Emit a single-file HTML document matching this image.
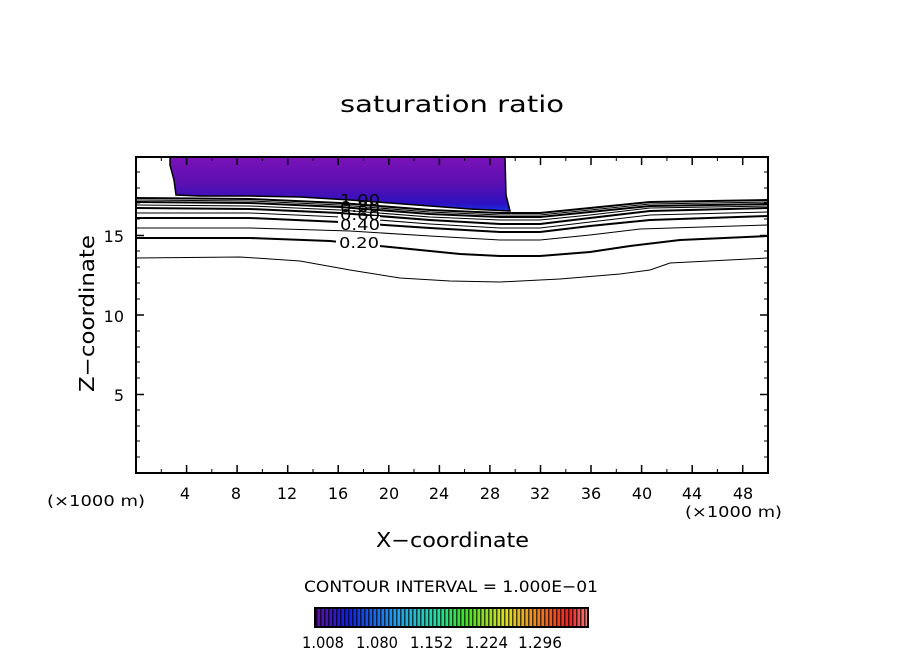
<!DOCTYPE html>
<html><head><style>body{margin:0;background:#fff}svg{display:block}text{font-family:"DejaVu Sans","Liberation Sans",sans-serif}</style></head><body>
<svg width="904" height="654" viewBox="0 0 904 654" xmlns="http://www.w3.org/2000/svg">
<defs>
<linearGradient id="pg" x1="0" y1="0" x2="0" y2="1">
<stop offset="0" stop-color="#7a12b8"/><stop offset="0.5" stop-color="#5a10b0"/><stop offset="0.85" stop-color="#3010c0"/><stop offset="1" stop-color="#1830e0"/>
</linearGradient>
<linearGradient id="cb" x1="0" y1="0" x2="1" y2="0">
<stop offset="0" stop-color="#6010a0"/><stop offset="0.12" stop-color="#1020e0"/><stop offset="0.3" stop-color="#20a0f0"/><stop offset="0.45" stop-color="#20e0a0"/><stop offset="0.55" stop-color="#40e020"/><stop offset="0.7" stop-color="#e0e020"/><stop offset="0.82" stop-color="#f08020"/><stop offset="0.93" stop-color="#f02020"/><stop offset="1" stop-color="#f08080"/>
</linearGradient>
<pattern id="st" width="4" height="20" patternUnits="userSpaceOnUse"><rect x="0" y="0" width="1.5" height="20" fill="#000" opacity="0.7"/></pattern>
</defs>
<text x="340" y="112" font-size="23" textLength="224" lengthAdjust="spacingAndGlyphs">saturation ratio</text>
<path d="M170,157 L505,157 L506,195 L510,211 L470,209 L430,206 L390,203 L350,200 L300,197 L250,196 L200,196 L176,195 L174,180 L170,165 Z" fill="url(#pg)" stroke="#000" stroke-width="1.5"/>
<g fill="none" stroke="#000">
<path d="M136,258 L240,257 L300,261 L350,270 L400,278 L450,281 L500,282 L560,279 L620,274 L650,270 L670,263 L768,258" stroke-width="1"/>
<path d="M136,238 L250,238 L330,241 L400,248 L460,254 L500,256 L540,256 L590,252 L630,246 L680,240 L768,236" stroke-width="2"/>
<path d="M136,228 L250,228 L350,231 L430,236 L500,240 L540,240 L590,235 L640,229 L768,225" stroke-width="1"/>
<path d="M136,218 L250,218 L340,222 L430,228 L500,232 L540,232 L590,226 L650,220 L768,216" stroke-width="2"/>
<path d="M136,213 L250,213 L340,217 L430,224 L500,228 L540,228 L590,222 L650,215 L768,212" stroke-width="1"/>
<path d="M136,208 L250,209 L340,213 L430,220 L500,224 L540,224 L590,218 L650,211 L768,208" stroke-width="2"/>
<path d="M136,205 L250,206 L340,210 L430,217 L500,220 L540,220 L590,215 L650,208 L768,206" stroke-width="1"/>
<path d="M136,202 L250,203 L340,207 L430,214 L500,217 L540,217 L590,212 L650,206 L768,204" stroke-width="2"/>
<path d="M136,200 L250,201 L340,205 L430,212 L500,215 L540,215 L590,210 L650,204 L768,202" stroke-width="1"/>
<path d="M136,198 L250,199 L340,203 L430,210 L500,213 L540,213 L590,208 L650,202 L768,200" stroke-width="2"/>
</g>
<rect x="336" y="234" width="44" height="14" fill="#fff"/>
<text x="339" y="248" font-size="15" textLength="40" lengthAdjust="spacingAndGlyphs">0.20</text>
<rect x="338" y="216" width="42" height="12" fill="#fff"/>
<text x="340" y="230" font-size="15" textLength="40" lengthAdjust="spacingAndGlyphs">0.40</text>
<text x="340" y="220" font-size="15" textLength="40" lengthAdjust="spacingAndGlyphs">0.60</text>
<text x="340" y="212" font-size="15" textLength="40" lengthAdjust="spacingAndGlyphs">0.80</text>
<text x="340" y="205" font-size="15" textLength="40" lengthAdjust="spacingAndGlyphs">1.00</text>
<rect x="136" y="157" width="632" height="316" fill="none" stroke="#000" stroke-width="2"/>
<g stroke="#000" stroke-width="1.5">
<path d="M186.6,473v-8M237.1,473v-8M287.7,473v-8M338.2,473v-8M388.8,473v-8M439.4,473v-8M489.9,473v-8M540.5,473v-8M591,473v-8M641.6,473v-8M692.2,473v-8M742.7,473v-8"/>
<path d="M186.6,157v8M237.1,157v8M287.7,157v8M338.2,157v8M388.8,157v8M439.4,157v8M489.9,157v8M540.5,157v8M591,157v8M641.6,157v8M692.2,157v8M742.7,157v8"/>
<path d="M136,394.5h8M136,315h8M136,235.5h8M768,394.5h-8M768,315h-8M768,235.5h-8"/>
</g>
<g stroke="#000" stroke-width="1">
<path d="M161.3,473v-4M211.8,473v-4M262.4,473v-4M313,473v-4M363.5,473v-4M414,473v-4M464.6,473v-4M515.2,473v-4M565.8,473v-4M616.3,473v-4M666.9,473v-4M717.4,473v-4"/>
<path d="M161.3,157v4M211.8,157v4M262.4,157v4M313,157v4M363.5,157v4M414,157v4M464.6,157v4M515.2,157v4M565.8,157v4M616.3,157v4M666.9,157v4M717.4,157v4"/>
<path d="M136,457h4M136,441h4M136,426h4M136,410h4M136,378h4M136,362h4M136,347h4M136,331h4M136,299h4M136,283h4M136,267h4M136,251h4M136,219h4M136,203h4M136,188h4M136,172h4"/>
<path d="M768,457h-4M768,441h-4M768,426h-4M768,410h-4M768,378h-4M768,362h-4M768,347h-4M768,331h-4M768,299h-4M768,283h-4M768,267h-4M768,251h-4M768,219h-4M768,203h-4M768,188h-4M768,172h-4"/>
</g>
<g font-size="16" text-anchor="middle">
<text x="185" y="499">4</text><text x="236" y="499">8</text><text x="287" y="499">12</text><text x="338" y="499">16</text><text x="389" y="499">20</text><text x="439" y="499">24</text><text x="490" y="499">28</text><text x="540" y="499">32</text><text x="591" y="499">36</text><text x="642" y="499">40</text><text x="692" y="499">44</text><text x="743" y="499">48</text>
</g>
<g font-size="16" text-anchor="end">
<text x="124" y="401">5</text><text x="124" y="322">10</text><text x="124" y="242">15</text>
</g>
<text x="47" y="506" font-size="15" textLength="98" lengthAdjust="spacingAndGlyphs">(×1000 m)</text>
<text x="685" y="517" font-size="15" textLength="97" lengthAdjust="spacingAndGlyphs">(×1000 m)</text>
<text x="376" y="547" font-size="20" textLength="153" lengthAdjust="spacingAndGlyphs">X−coordinate</text>
<text transform="translate(94,392) rotate(-90)" font-size="20" textLength="157" lengthAdjust="spacingAndGlyphs">Z−coordinate</text>
<text x="304" y="592" font-size="16" textLength="294" lengthAdjust="spacingAndGlyphs">CONTOUR INTERVAL = 1.000E−01</text>
<rect x="315" y="608" width="273" height="19" fill="url(#cb)"/>
<rect x="315" y="608" width="273" height="19" fill="url(#st)"/>
<rect x="315" y="608" width="273" height="19" fill="none" stroke="#000" stroke-width="2"/>
<g font-size="16">
<text x="302" y="648" textLength="42" lengthAdjust="spacingAndGlyphs">1.008</text>
<text x="356" y="648" textLength="42" lengthAdjust="spacingAndGlyphs">1.080</text>
<text x="410" y="648" textLength="43" lengthAdjust="spacingAndGlyphs">1.152</text>
<text x="465" y="648" textLength="43" lengthAdjust="spacingAndGlyphs">1.224</text>
<text x="518" y="648" textLength="44" lengthAdjust="spacingAndGlyphs">1.296</text>
</g>
</svg>
</body></html>
